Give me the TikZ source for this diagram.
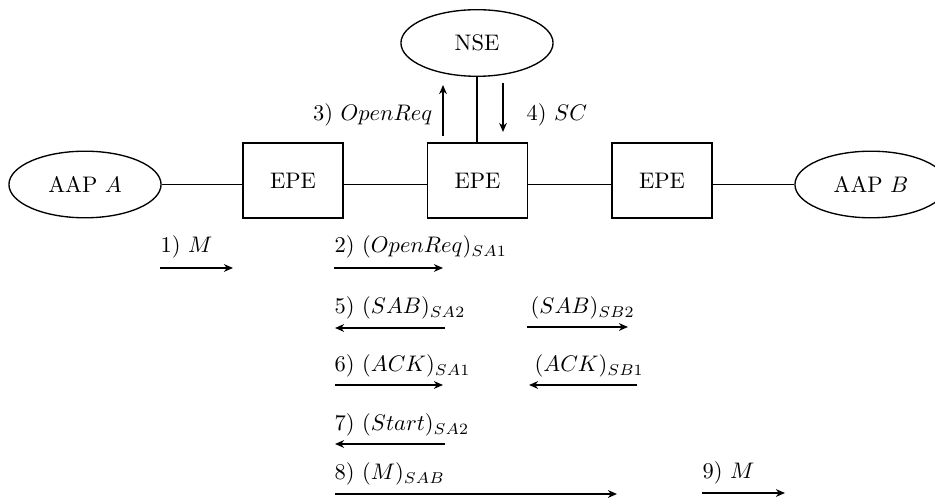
\documentclass[tikz,border=0pt]{standalone}
\usetikzlibrary{shapes.geometric,arrows.meta}
\begin{document}
\begin{tikzpicture}[x=0.4444pt,y=-0.4444pt,
  line width=0.6pt,
  aap/.style={draw,ellipse,inner sep=0pt,minimum width=67.6pt,minimum height=29.6pt},
  epe/.style={draw,rectangle,inner sep=0pt,minimum width=44.4pt,minimum height=33.3pt},
  lbl/.style={anchor=base west,inner sep=0pt},
  msg/.style={-{Stealth[length=4pt,width=3.4pt,inset=1.2pt]},line width=0.6pt}]
\useasboundingbox (0,0) rectangle (935,498);
\begin{scope}
\clip (0,0) rectangle (935,498);
% entities
\node[aap] (A) at (85,184.5) {AAP $A$};
\node[aap] (B) at (871,184.5) {AAP $B$};
\node[aap] (N) at (477,43) {NSE};
\node[epe] (E1) at (293,180.5) {EPE};
\node[epe] (E2) at (477.5,180.5) {EPE};
\node[epe] (E3) at (662,180.5) {EPE};
\end{scope}
% links
\draw (A.east) -- (A.east -| E1.west);
\draw (A.east -| E1.east) -- (A.east -| E2.west);
\draw (A.east -| E2.east) -- (A.east -| E3.west);
\draw (A.east -| E3.east) -- (B.west);
\draw (N.south) -- (N.south |- E2.north);
% NSE messages
\coordinate (u1) at (443,136); \coordinate (u2) at (443,85);
\coordinate (d1) at (503,83);  \coordinate (d2) at (503,132);
\draw[msg] (u1) -- (u2);
\draw[msg] (d1) -- (d2);
\node[lbl,anchor=base east] (l3) at (433,121) {3) $OpenReq$};
\node[lbl] (l4) at (526,121) {4) $SC$};
% message rows
\node[lbl] (l1) at (160,253) {1) $M$};
\coordinate (a1s) at (160,268); \coordinate (a1e) at (233,268);
\draw[msg] (a1s) -- (a1e);
\node[lbl] (l2) at (334,253) {2) $(OpenReq)_{SA1}$};
\coordinate (a2s) at (334,268); \coordinate (a2e) at (443,268);
\draw[msg] (a2s) -- (a2e);
\node[lbl] (l5) at (334,314) {5) $(SAB)_{SA2}$};
\coordinate (a5s) at (445,328); \coordinate (a5e) at (335,328);
\draw[msg] (a5s) -- (a5e);
\node[lbl] (l5b) at (530,314) {$(SAB)_{SB2}$};
\coordinate (b5s) at (527,327); \coordinate (b5e) at (628,327);
\draw[msg] (b5s) -- (b5e);
\node[lbl] (l6) at (334,372) {6) $(ACK)_{SA1}$};
\coordinate (a6s) at (335,385); \coordinate (a6e) at (443,385);
\draw[msg] (a6s) -- (a6e);
\node[lbl] (l6b) at (534,372) {$(ACK)_{SB1}$};
\coordinate (b6s) at (637,385); \coordinate (b6e) at (529,385);
\draw[msg] (b6s) -- (b6e);
\node[lbl] (l7) at (334,431) {7) $(Start)_{SA2}$};
\coordinate (a7s) at (445,444); \coordinate (a7e) at (335,444);
\draw[msg] (a7s) -- (a7e);
\node[lbl] (l8) at (334,480) {8) $(M)_{SAB}$};
\coordinate (a8s) at (335,494); \coordinate (a8e) at (617,494);
\draw[msg] (a8s) -- (a8e);
\node[lbl] (l9) at (702,479) {9) $M$};
\coordinate (a9s) at (702,493); \coordinate (a9e) at (785,493);
\draw[msg] (a9s) -- (a9e);
\end{tikzpicture}
\end{document}
